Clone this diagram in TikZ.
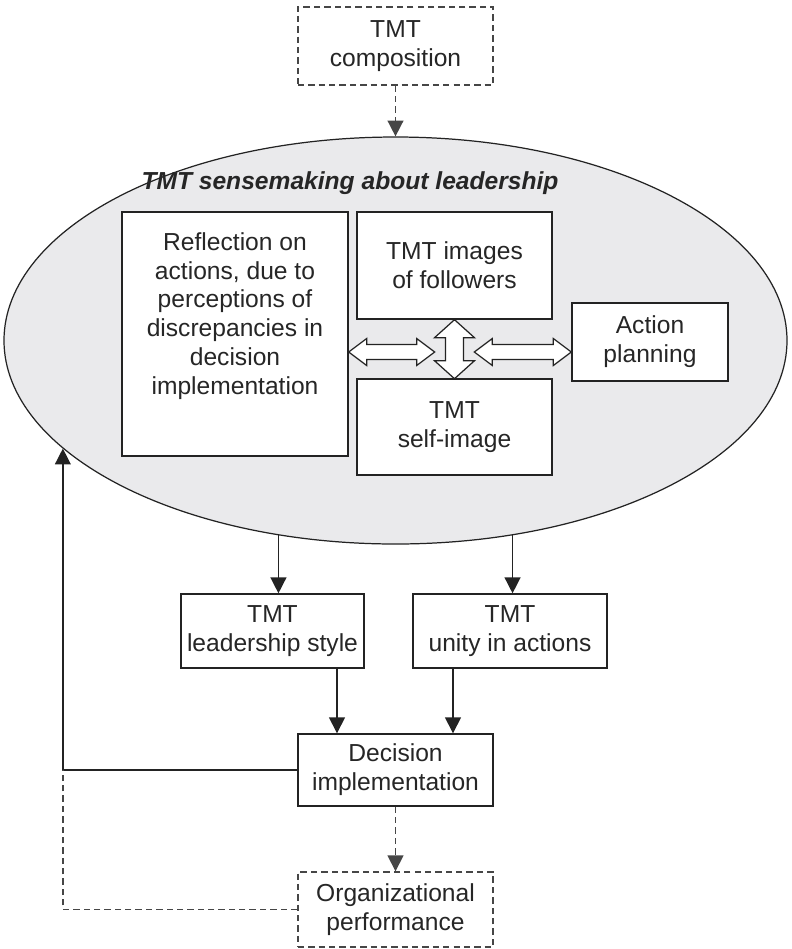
\documentclass[tikz,border=0pt]{standalone}
\usepackage{fontspec}
\setmainfont{Liberation Sans}
\usetikzlibrary{shapes.geometric, arrows.meta, positioning, calc}
\definecolor{linegray}{RGB}{35,35,35}
\definecolor{dashgray}{RGB}{70,70,70}
\definecolor{sensefill}{RGB}{234,234,236}
\newcommand\boxfont{\fontsize{14}{16.4}\selectfont}

\begin{document}
\begin{tikzpicture}[
    box/.style={draw=linegray, fill=white, line width=0.8pt, align=center, inner sep=2pt, text=black!85, font=\boxfont},
    dashbox/.style={box, draw=dashgray, dash pattern=on 3.6pt off 2.3pt},
    arrow/.style={-{Triangle[width=9pt,length=9pt]}, line width=0.8pt, linegray},
    dasharrow/.style={arrow, line width=0.9pt, dashgray, dash pattern=on 3.6pt off 2.3pt},
    dashline/.style={line width=0.9pt, dashgray, dash pattern=on 3.6pt off 2.3pt},
    % hollow two-headed arrow: length, half shaft, half head, head length
    pics/twoway/.style n args={4}{code={
        \draw[linegray, fill=white, line width=0.7pt, line join=miter]
            (0,0) -- (#4,#3) -- (#4,#2) -- (#1-#4,#2) -- (#1-#4,#3) -- (#1,0)
            -- (#1-#4,-#3) -- (#1-#4,-#2) -- (#4,-#2) -- (#4,-#3) -- cycle;
    }}
]
    \useasboundingbox (0,0) rectangle (15.84,-18.98);

    % Input
    \node[dashbox, minimum width=3.9cm, minimum height=1.56cm] (comp) at (7.91,-0.92) {TMT\\composition};

    % Sensemaking ellipse and its parts
    \node[ellipse, draw=linegray, fill=sensefill, line width=0.7pt, minimum width=15.66cm, minimum height=8.14cm, inner sep=0pt] (sense) at (7.91,-6.81) {};
    \node[font=\boxfont\bfseries\itshape, text=black!85] (title) at (7.0,-3.66) {TMT sensemaking about leadership};
    \node[box, minimum width=4.52cm, minimum height=4.88cm] (refl) at (4.70,-6.68) {};
    \node[align=center, font=\boxfont, text=black!85, anchor=north] (refltext) at ([yshift=-0.3cm]refl.north) {Reflection on\\actions, due to\\perceptions of\\discrepancies in\\decision\\implementation};
    \node[box, minimum width=3.9cm, minimum height=2.14cm] (images) at (9.09,-5.31) {TMT images\\of followers};
    \node[box, minimum width=3.9cm, minimum height=1.92cm] (self) at (9.09,-8.54) {TMT\\self-image};
    \node[box, minimum width=3.12cm, minimum height=1.56cm] (plan) at (13.0,-6.84) {Action\\planning};

    % Two-way links
    \pic[rotate=-90] at (images.south) {twoway={1.18}{0.18}{0.4}{0.36}};
    \pic at (refl.east |- 0,-7.04) {twoway={1.72}{0.15}{0.27}{0.36}};
    \pic[rotate=180] at (plan.west |- 0,-7.04) {twoway={1.94}{0.15}{0.27}{0.36}};

    % Outcomes
    \node[box, minimum width=3.66cm, minimum height=1.48cm] (lead) at (5.45,-12.62) {TMT\\leadership style};
    \node[box, minimum width=3.88cm, minimum height=1.48cm] (unity) at (10.2,-12.62) {TMT\\unity in actions};
    \node[box, minimum width=3.9cm, minimum height=1.44cm] (dec) at (7.91,-15.4) {Decision\\implementation};
    \node[dashbox, minimum width=3.9cm, minimum height=1.5cm] (org) at (7.91,-18.19) {Organizational\\performance};

    % Connectors
    \draw[dasharrow] (comp) -- (sense);
    \draw[arrow] (sense.239) -- (sense.239 |- lead.north);
    \draw[arrow] (sense.301) -- (sense.301 |- unity.north);
    \coordinate (leadout) at ([xshift=-1.17cm]dec.north);
    \coordinate (unityout) at ([xshift=1.15cm]dec.north);
    \draw[arrow] (lead.south -| leadout) -- (leadout);
    \draw[arrow] (unity.south -| unityout) -- (unityout);
    \draw[dasharrow] (dec) -- (org);

    % Feedback loop
    \coordinate (loop) at (sense.198 |- dec.west);
    \draw[arrow] (dec.west) -- (loop) -- (sense.198);
    \draw[dashline] (org.west) -| (loop);
\end{tikzpicture}
\end{document}
